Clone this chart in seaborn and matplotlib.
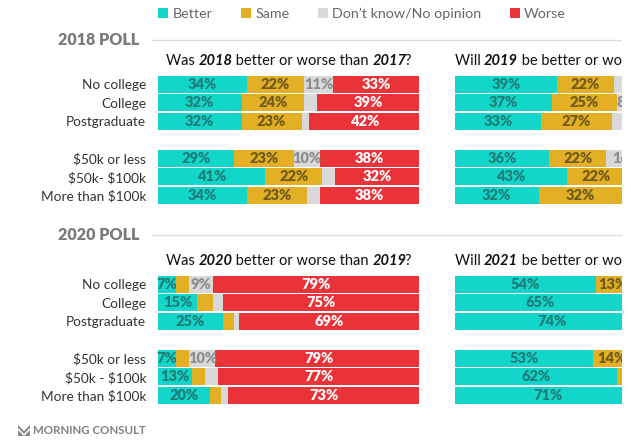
import matplotlib
matplotlib.use("Agg")
import pandas as pd
import matplotlib.pyplot as plt
import seaborn as sns
from matplotlib.patches import Patch, Rectangle, Polygon
from matplotlib.lines import Line2D
from matplotlib.offsetbox import TextArea, HPacker, AnnotationBbox

responses = ["Better", "Same", "Don’t know/No opinion", "Worse"]
colors = ["#13d6cb", "#e3af24", "#d9d9d9", "#ea3339"]
label_colors = ["#1d7d77", "#6f5a17", "#8e8e8e", "white"]

groups_2018 = ["No college", "College", "Postgraduate",
               "$50k or less", "$50k- $100k", "More than $100k"]
groups_2020 = ["No college", "College", "Postgraduate",
               "$50k or less", "$50k - $100k", "More than $100k"]

# rows: Better, Same, Don't know, Worse
was_2018 = [[34, 22, 11, 33], [32, 24, 5, 39], [32, 23, 3, 42],
            [29, 23, 10, 38], [41, 22, 5, 32], [34, 23, 5, 38]]
will_2019 = [[39, 22, 6, 33], [37, 25, 8, 30], [33, 27, 6, 34],
             [36, 22, 16, 26], [43, 22, 7, 28], [32, 32, 6, 30]]
was_2020 = [[7, 5, 9, 79], [15, 6, 4, 75], [25, 4, 2, 69],
            [7, 5, 10, 79], [13, 5, 5, 77], [20, 4, 3, 73]]
will_2021 = [[54, 13, 13, 20], [65, 12, 10, 13], [74, 10, 6, 10],
             [53, 14, 14, 19], [62, 14, 10, 14], [71, 12, 6, 11]]

FONT = "Lato"
plt.rcParams["font.family"] = FONT
plt.rcParams["text.parse_math"] = False

W, H = 631, 445


def draw_panel(ax, cats, values, show_cats):
    df = pd.DataFrame(values, columns=responses)
    df["group"] = cats
    cum = df[responses].cumsum(axis=1)
    order = cats[:3] + [" "] + cats[3:]
    for i in reversed(range(4)):
        sns.barplot(x=cum[responses[i]], y=df["group"], order=order, orient="h",
                    color=colors[i], saturation=1, width=0.9, linewidth=0,
                    errorbar=None, ax=ax)
    for j, g in enumerate(cats):
        ypos = order.index(g)
        left = 0
        for i, r in enumerate(responses):
            v = df.loc[j, r]
            if v >= 7:
                ax.text(left + v / 2, ypos, f"{v}%", ha="center", va="center",
                        color=label_colors[i], fontsize=10.5, fontweight="heavy")
            left += v
    ax.set_xlim(0, 100)
    ax.set_xlabel("")
    ax.set_ylabel("")
    ax.set_xticks([])
    for s in ax.spines.values():
        s.set_visible(False)
    ax.tick_params(axis="y", length=0, pad=8.5, labelsize=9.8, labelcolor="#333333")
    if not show_cats:
        ax.tick_params(axis="y", labelleft=False)


def panel_title(ax, parts):
    def area(t, b):
        return TextArea(t, textprops=dict(
            fontsize=10.5, color="#111111", family=FONT,
            fontweight="bold" if b else "normal",
            fontstyle="italic" if b else "normal"))
    boxes = [area(t, b) for t, b in parts[:-2]]
    # keep the question mark close to the italic year
    tail = HPacker(children=[area(*parts[-2]), area(*parts[-1])],
                   align="baseline", pad=0, sep=-1.5)
    pack = HPacker(children=boxes + [tail], align="baseline", pad=0, sep=0)
    ab = AnnotationBbox(pack, (0.5, 1.0), xycoords="axes fraction",
                        xybox=(0, 5), boxcoords="offset points",
                        box_alignment=(0.5, 0), frameon=False, pad=0,
                        annotation_clip=False)
    ax.add_artist(ab)


def section_header(text, y):
    fig.text(58 / W, 1 - y / H, text, va="center", ha="left", fontsize=11.5,
             fontweight="heavy", color="#7a7a7a")
    fig.add_artist(Line2D([152 / W, 1], [1 - y / H, 1 - y / H],
                          transform=fig.transFigure, color="#dddddd", lw=1))


fig = plt.figure(figsize=(W / 100, H / 100), dpi=100)

left_x, right_x, pw = 158 / W, 455 / W, 261 / W
ph = 129.5 / H
ax1 = fig.add_axes([left_x, (H - 204.5) / H, pw, ph])
ax2 = fig.add_axes([right_x, (H - 204.5) / H, pw, ph])
ax3 = fig.add_axes([left_x, (H - 404.5) / H, pw, ph])
ax4 = fig.add_axes([right_x, (H - 404.5) / H, pw, ph])

draw_panel(ax1, groups_2018, was_2018, True)
draw_panel(ax2, groups_2018, will_2019, False)
draw_panel(ax3, groups_2020, was_2020, True)
draw_panel(ax4, groups_2020, will_2021, False)

panel_title(ax1, [("Was ", False), ("2018", True), (" better or worse than ", False),
                  ("2017", True), ("?", False)])
panel_title(ax2, [("Will ", False), ("2019", True), (" be better or worse than ", False),
                  ("2018", True), ("?", False)])
panel_title(ax3, [("Was ", False), ("2020", True), (" better or worse than ", False),
                  ("2019", True), ("?", False)])
panel_title(ax4, [("Will ", False), ("2021", True), (" be better or worse than ", False),
                  ("2020", True), ("?", False)])

section_header("2018 POLL", 40)
section_header("2020 POLL", 235)

handles = [Patch(facecolor=c, edgecolor="none") for c in colors]
fig.legend(handles, responses, loc="center", bbox_to_anchor=(362 / W, 1 - 14 / H),
           ncol=4, frameon=False, fontsize=10.3, handlelength=0.7, handleheight=0.7,
           handletextpad=0.3, columnspacing=2.0, labelcolor="#666666")

# footer logo
fig.add_artist(Polygon([[18 / W, 1 - 425 / H], [24 / W, 1 - 431 / H], [30 / W, 1 - 425 / H],
                        [30 / W, 1 - 436 / H], [18 / W, 1 - 436 / H]],
                       closed=True, transform=fig.transFigure, color="#8a8a8a", lw=0))
fig.add_artist(Polygon([[18 / W, 1 - 428 / H], [24 / W, 1 - 434 / H], [30 / W, 1 - 428 / H],
                        [30 / W, 1 - 430 / H], [24 / W, 1 - 436 / H], [18 / W, 1 - 430 / H]],
                       closed=True, transform=fig.transFigure, color="white", lw=0))
fig.text(33 / W, 1 - 431 / H, "MORNING CONSULT", va="center", ha="left",
         fontsize=8.3, fontweight="bold", color="#808080")

# the source image is cut at the right edge
fig.add_artist(Rectangle((622 / W, 0), 9 / W, 1, transform=fig.transFigure,
                         facecolor="white", edgecolor="none", zorder=20))

fig.savefig("out.png", dpi=100)
